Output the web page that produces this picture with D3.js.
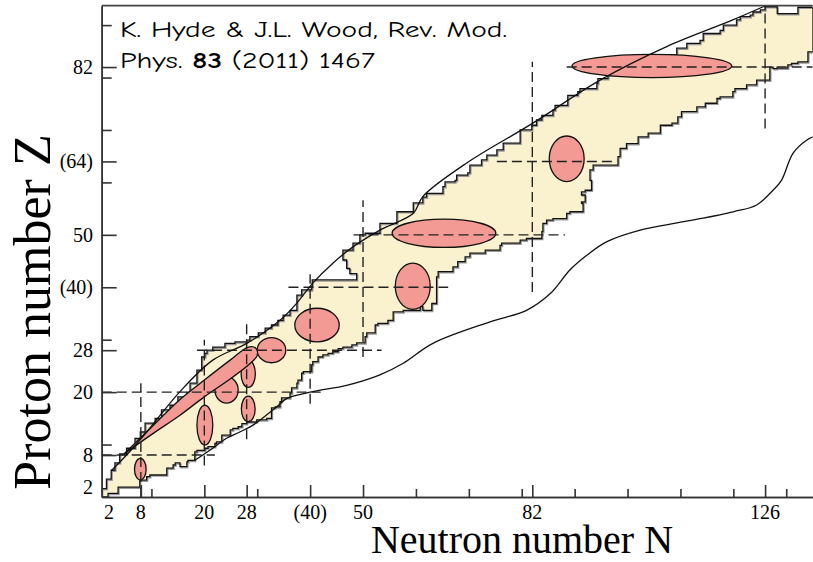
<!DOCTYPE html>
<html><head><meta charset="utf-8">
<script src="https://cdn.jsdelivr.net/npm/d3@7"></script>
<style>body{margin:0;background:#fff}</style>
</head><body>
<svg id="c" width="813" height="562"></svg>
<script>
// ---- DATA (N = neutron number, Z = proton number) ----
// proton-rich edge of known nuclides, from bottom-left to top-right
const protonEdge = [[0.6,0],[0.6,1.6],[1.5,1.6],[1.5,3.4],[2.4,3.4],[2.4,5.1],[3.1,6.5],[4.0,8.2],[5.3,9.3],[6.9,11.2],[7.9,12.4],[8.8,14.1],[10.7,15.0],[11.9,16.6],[13.5,17.5],[15.0,19.1],[16.7,20.0],[17.3,21.7],[18.6,24.2],[19.5,25.2],[19.5,26.7],[20.1,27.4],[20.5,28.0],[21.6,28.6],[23.9,29.3],[25.8,29.6],[28.0,29.9],[28.6,30.6],[30.2,31.3],[31.5,32.2],[32.7,32.8],[33.9,33.7],[34.9,34.7],[36.2,35.6],[37.5,38.5],[38.4,39.5],[40.3,40.1],[40.4,41.4],[48.8,41.4],[48.8,42.6],[47.5,42.6],[47.5,43.6],[46.9,43.6],[46.9,45.2],[46.2,45.2],[46.2,47.1],[48.1,48.4],[49.4,48.7],[49.4,50.0],[50.4,50.3],[53.2,50.9],[53.2,52.2],[56.4,52.5],[56.4,54.4],[59.5,54.7],[59.5,56.1],[61.3,57.2],[62.0,57.9],[65.1,59.2],[65.5,60.1],[67.4,60.4],[67.7,61.4],[69.8,61.8],[70.2,63.3],[72.4,64.3],[73.4,65.2],[75.3,66.2],[76.5,67.5],[79.7,68.4],[79.7,70.0],[81.9,70.9],[82.8,71.9],[83.8,72.8],[85.9,73.8],[86.3,74.7],[88.7,75.7],[88.7,76.6],[90.6,77.3],[91.0,77.9],[94.2,78.9],[94.4,79.8],[96.3,80.5],[98.6,81.2],[101.4,82.2],[104.2,83.2],[107.1,84.3],[109.3,85.6],[111.2,86.5],[113.7,87.1],[114.3,88.4],[117.5,89.0],[118.1,90.0],[120.6,91.0],[121.3,91.6],[123.2,91.9],[123.7,92.5],[125.1,92.9],[126.0,93.5]];
// top edge along the frame
const topEdge = [[128.3,93.5],[128.3,92.2],[132.2,92.2],[132.2,93.4],[135,93.4],[135,84.9]];
// neutron-rich edge of known nuclides, from top-right to bottom-left
const neutronEdge = [[134.1,84.6],[134.1,83.0],[132.2,82.7],[131.0,82.4],[130.3,81.8],[128.2,81.7],[127.5,82.0],[126.9,81.4],[126.9,79.5],[124.6,79.5],[124.4,78.6],[122.5,77.9],[120.3,77.3],[119.9,76.3],[117.5,76.0],[116.9,75.1],[114.7,74.4],[113.1,73.5],[110.2,72.5],[109.5,71.3],[108.4,70.9],[106.2,69.4],[103.9,68.7],[102.0,67.4],[99.8,66.5],[98.6,64.9],[98.2,63.3],[93.5,62.4],[92.9,60.4],[93.2,58.5],[92.0,58.2],[91.3,57.6],[92.0,56.3],[91.3,56.0],[91.6,54.4],[89.1,54.1],[88.5,53.1],[85.9,52.8],[84.7,52.2],[84.0,50.6],[83.8,49.3],[80.9,49.0],[79.7,48.4],[76.2,48.0],[75.9,47.1],[73.1,46.5],[70.2,45.8],[69.3,44.9],[67.9,43.9],[67.0,43.0],[64.2,42.0],[63.9,36.9],[63.0,36.6],[63.0,35.6],[62.0,35.6],[61.3,36.3],[60.8,35.6],[57.6,35.3],[55.7,33.7],[54.7,33.1],[52.8,32.8],[52.3,31.3],[50.7,30.6],[50.4,29.4],[48.8,29.0],[47.9,28.6],[46.2,28.3],[45.3,27.7],[44.3,27.4],[43.4,27.1],[42.4,26.7],[41.5,25.8],[40.5,25.2],[40.3,23.9],[38.7,23.6],[38.4,22.3],[37.7,21.7],[37.5,20.8],[36.5,19.8],[36.2,18.9],[34.6,18.2],[34.3,17.2],[33.4,17.0],[32.7,15.0],[31.8,14.7],[29.9,14.3],[28.6,14.3],[28.0,14.0],[27.1,13.4],[26.4,13.1],[25.4,12.8],[24.9,11.8],[23.9,11.8],[23.3,10.5],[22.3,10.2],[22.0,9.6],[20.7,9.3],[20.1,8.9],[18.6,8.6],[18.2,7.0],[16.9,6.7],[16.7,5.8],[15.7,5.8],[15.4,6.5],[14.5,6.1],[14.1,5.5],[12.9,5.5],[12.9,4.2],[9.7,3.9],[9.1,3.2],[7.8,1.9],[3.7,1.9],[3.7,0.7],[1.8,0.7],[1.8,0]];
// proton drip line
const protonDrip = [[2.5,5.1],[5.3,8.0],[9.1,12.4],[15.4,20.1],[21.6,26.1],[28.0,29.3],[34.3,33.7],[37.5,37.0],[40.5,40.8],[44.3,44.6],[48.1,47.7],[53.2,50.9],[59.5,54.1],[61.3,57.3],[69.6,63.7],[82.1,71.3],[94.8,79.5],[107.4,85.9],[119.9,91.0],[126.3,93.8]];
// neutron drip line
const neutronDrip = [[18.2,7.0],[21.6,9.3],[24.2,11.2],[26.7,12.4],[29.2,13.7],[33.7,17.2],[35.6,18.8],[40.5,20.1],[46.9,21.3],[53.2,23.3],[57.6,25.5],[63.2,29.3],[74.0,33.4],[80.9,35.6],[85.4,38.8],[89.1,43.3],[92.3,46.1],[96.1,48.7],[102.4,50.9],[110.6,52.5],[120.0,54.4],[124.4,55.7],[127.5,58.5],[129.1,60.4],[131.3,65.6],[133.9,68.1],[135.1,68.7]];
// magic-number guide lines: horizontal [Z, Nfrom, Nto], vertical [N, Zfrom, Zto]
const magicZLines = [[8,0.6,22],[20,0.6,42],[28,18.6,53.5],[40,35.9,66.1],[50,48.2,88.2],[64,75.3,98],[82,88.5,135]];
const magicNLines = [[8,0,21.7],[20,6,30],[28,11,33.4],[40,17.8,42.5],[50,26.7,56.6],[82,39.1,83],[126,70.3,93.5]];
// deformation regions: [N centre, Z centre, N half-width, Z half-height]
const deformed = [[7.9,5.3,1.1,2.05],[20.1,13.7,1.5,3.8],[28.3,16.8,1.3,2.45],[28.3,23.5,1.35,2.6],[24.2,20.4,2.2,2.5],[32.7,28.0,2.7,2.4],[41.3,32.8,4.2,3.2],[59.4,40.2,3.3,4.4],[65.3,50.3,9.8,2.7],[88.5,64.5,3.3,4.35],[104.6,82.2,15.1,2.2]];
// N = Z band (closed outline)
const nzBand = [[4.8,8.2],[10,13.3],[15.4,18.6],[20,22.3],[25,26.2],[28.3,28.6],[29.7,28.4],[30.0,27.0],[28.6,25.4],[25,22.6],[20,19.1],[15.4,15.6],[10,11.9],[4.8,8.2]];
// axes
const xMajor = [8,20,28,40,50,82,126];
const xMinor = [10,30,60,70,80,90,100,110,120,130];
const yMajor = [8,20,28,40,50,64,82];
const yMinor = [10,30,60,70,80,90];
const xLabelVals = [2,8,20,28,40,50,82,126];
const xLabelText = ["2","8","20","28","(40)","50","82","126"];
const yLabelVals = [2,8,20,28,40,50,64,82];
const yLabelText = ["2","8","20","28","(40)","50","(64)","82"];

// ---- DRAW ----
const svg = d3.select("#c");
const x = d3.scaleLinear().domain([0.6,135]).range([101.7,812.7]);
const y = d3.scaleLinear().domain([0,93.7]).range([497,5.7]);
const serif = "'Liberation Serif','Times New Roman',serif";

svg.append("defs").append("clipPath").attr("id","plot")
  .append("rect").attr("x",x(0.6)).attr("y",y(93.7)).attr("width",x(135)-x(0.6)).attr("height",y(0)-y(93.7));
const g = svg.append("g").attr("clip-path","url(#plot)");

const regionPts = protonEdge.concat(topEdge, neutronEdge);
const stepLine = d3.line().x(d=>x(d[0])).y(d=>y(d[1])).curve(d3.curveStepAfter);
const regionPath = stepLine(regionPts) + "Z";
g.append("path").attr("d",regionPath).attr("fill","#FAF1CE").attr("stroke","none");
g.append("path").attr("d",regionPath).attr("fill","none").attr("stroke","#999").attr("stroke-width",1.3).attr("transform","translate(1,1.2)");
g.append("path").attr("d",regionPath).attr("fill","none").attr("stroke","#111").attr("stroke-width",1.3);

// ellipses
g.selectAll("ellipse.def").data(deformed).join("ellipse").attr("class","def")
  .attr("cx",d=>x(d[0])).attr("cy",d=>y(d[1]))
  .attr("rx",d=>x(d[0]+d[2])-x(d[0])).attr("ry",d=>y(d[1])-y(d[1]+d[3]))
  .attr("fill","#F29A93").attr("stroke","#111").attr("stroke-width",1.3);

// N=Z band
const smooth = d3.line().x(d=>x(d[0])).y(d=>y(d[1])).curve(d3.curveCatmullRom);
g.append("path").attr("d",smooth(nzBand)+"Z").attr("fill","#F29A93").attr("stroke","#111").attr("stroke-width",1.3);

// dashed magic lines
g.selectAll("line.mz").data(magicZLines).join("line").attr("class","mz")
  .attr("x1",d=>x(d[1])).attr("x2",d=>x(d[2])).attr("y1",d=>y(d[0])).attr("y2",d=>y(d[0]))
  .attr("stroke","#222").attr("stroke-width",1.4).attr("stroke-dasharray","10,5");
g.selectAll("line.mn").data(magicNLines).join("line").attr("class","mn")
  .attr("x1",d=>x(d[0])).attr("x2",d=>x(d[0])).attr("y1",d=>y(d[1])).attr("y2",d=>y(d[2]))
  .attr("stroke","#222").attr("stroke-width",1.4).attr("stroke-dasharray","10,5");

// drip lines
g.append("path").attr("d",smooth(protonDrip)).attr("fill","none").attr("stroke","#111").attr("stroke-width",1.3);
g.append("path").attr("d",smooth(neutronDrip)).attr("fill","none").attr("stroke","#111").attr("stroke-width",1.3);

// axes
function styleAxis(sel){ sel.selectAll("path,line").attr("stroke","#333").attr("stroke-width",1.6); sel.selectAll("text").remove(); }
svg.append("g").attr("transform",`translate(0,${y(0)})`).call(d3.axisBottom(x).tickValues(xMajor).tickSize(-12).tickSizeOuter(0).tickFormat("")).call(styleAxis);
svg.append("g").attr("transform",`translate(0,${y(0)})`).call(d3.axisBottom(x).tickValues(xMinor).tickSize(-8).tickSizeOuter(0).tickFormat("")).call(styleAxis);
svg.append("g").attr("transform",`translate(${x(0.6)},0)`).call(d3.axisLeft(y).tickValues(yMajor).tickSize(-15).tickSizeOuter(0).tickFormat("")).call(styleAxis);
svg.append("g").attr("transform",`translate(${x(0.6)},0)`).call(d3.axisLeft(y).tickValues(yMinor).tickSize(-10).tickSizeOuter(0).tickFormat("")).call(styleAxis);
svg.append("line").attr("x1",x(0.6)).attr("x2",x(135)).attr("y1",y(93.7)).attr("y2",y(93.7)).attr("stroke","#444").attr("stroke-width",1.8);

svg.selectAll("text.xl").data(xLabelVals).join("text").attr("class","xl")
  .attr("x",d=>x(d)).attr("y",519).attr("text-anchor","middle")
  .style("font-family",serif).style("font-size","20px").text((d,i)=>xLabelText[i]);
svg.selectAll("text.yl").data(yLabelVals).join("text").attr("class","yl")
  .attr("x",93).attr("y",d=>y(d)+7).attr("text-anchor","end")
  .style("font-family",serif).style("font-size","20px").text((d,i)=>yLabelText[i]);

svg.append("text").attr("x",522).attr("y",553).attr("text-anchor","middle")
  .style("font-family",serif).style("font-size","40px").text("Neutron number N");
svg.append("text").attr("transform","translate(50,312) rotate(-90)").attr("text-anchor","middle")
  .style("font-family",serif).style("font-size","52px").text("Proton number Z");

const comic = "'Comic Sans MS','Comic Neue','DejaVu Sans',sans-serif";
svg.append("text").attr("x",120).attr("y",36.5).style("font-family",comic).style("font-size","22px")
  .attr("textLength",387).attr("lengthAdjust","spacingAndGlyphs").text("K. Hyde & J.L. Wood, Rev. Mod.");
const t2 = svg.append("text").attr("x",120).attr("y",68).style("font-family",comic).style("font-size","22px")
  .attr("textLength",255).attr("lengthAdjust","spacingAndGlyphs");
t2.append("tspan").text("Phys. ");
t2.append("tspan").style("font-weight","bold").text("83");
t2.append("tspan").text(" (2011) 1467");
</script>
</body></html>
